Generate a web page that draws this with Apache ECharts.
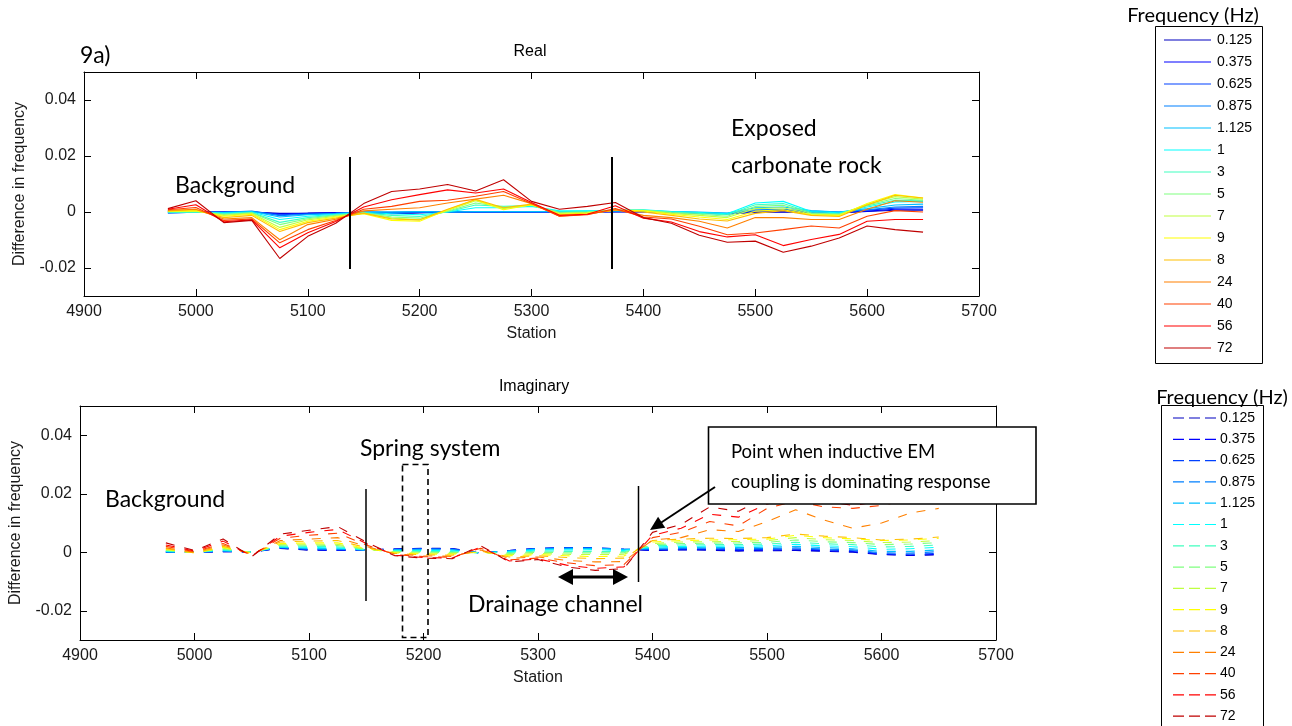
<!DOCTYPE html>
<html>
<head>
<meta charset="utf-8">
<script src="https://cdn.jsdelivr.net/npm/echarts@6/dist/echarts.min.js"></script>
<style>
  html, body { margin: 0; padding: 0; background: #ffffff; }
  #main { width: 1292px; height: 726px; }
</style>
</head>
<body>
<div id="main"></div>
<script>
// Survey stations (m) shared by both panels
const stations = [4975, 5000, 5025, 5050, 5075, 5100, 5125, 5150, 5175, 5200, 5225, 5250, 5275, 5300,
                  5325, 5350, 5375, 5400, 5425, 5450, 5475, 5500, 5525, 5550, 5575, 5600, 5625, 5650];

// Frequencies as they appear in the legends, and their jet colours
const frequencies = ['0.125', '0.375', '0.625', '0.875', '1.125', '1', '3', '5', '7', '9', '8', '24', '40', '56', '72'];
const freqColors = ['#0000bf', '#0000ff', '#0040ff', '#0080ff', '#00bfff', '#00ffff', '#40ffbf', '#80ff80',
                    '#bfff40', '#ffff00', '#ffbf00', '#ff8000', '#ff4000', '#ff0000', '#bf0000'];

// Axis tick labels
const xTicks = [4900, 5000, 5100, 5200, 5300, 5400, 5500, 5600, 5700];
const yTicks = [-0.02, 0, 0.02, 0.04];

// ---- Real part: difference in frequency per station ----
const real_0_125 = [0.0004, 0.0000, 0.0000, 0.0000, -0.0005, -0.0004, -0.0002, -0.0002, -0.0006, -0.0003, 0.0000, 0.0000, 0.0000, 0.0000, 0.0000, 0.0000, 0.0000, 0.0001, -0.0002, -0.0004, -0.0006, -0.0002, 0.0000, -0.0002, -0.0003, 0.0002, 0.0006, 0.0006];
const real_0_375 = [0.0003, 0.0000, 0.0000, 0.0000, -0.0007, -0.0005, -0.0003, -0.0002, -0.0005, -0.0002, 0.0000, 0.0000, 0.0000, 0.0000, 0.0000, 0.0000, 0.0001, 0.0002, -0.0001, -0.0004, -0.0007, 0.0000, 0.0002, -0.0001, -0.0002, 0.0003, 0.0010, 0.0010];
const real_0_625 = [-0.0003, -0.0001, 0.0000, 0.0002, -0.0010, -0.0006, -0.0004, 0.0000, -0.0002, 0.0000, 0.0000, 0.0000, 0.0000, 0.0000, 0.0001, 0.0001, 0.0002, 0.0003, 0.0000, -0.0003, -0.0006, 0.0004, 0.0006, 0.0001, -0.0001, 0.0006, 0.0014, 0.0015];
const real_0_875 = [-0.0003, -0.0001, -0.0001, 0.0003, -0.0013, -0.0008, -0.0005, 0.0000, 0.0000, 0.0001, 0.0000, 0.0000, 0.0000, 0.0000, 0.0001, 0.0002, 0.0003, 0.0004, 0.0001, -0.0002, -0.0005, 0.0008, 0.0010, 0.0003, 0.0000, 0.0008, 0.0018, 0.0020];
const real_1_125 = [-0.0002, 0.0000, -0.0002, 0.0002, -0.0018, -0.0010, -0.0006, 0.0000, 0.0000, 0.0002, 0.0000, 0.0002, 0.0002, 0.0002, 0.0002, 0.0003, 0.0004, 0.0005, 0.0002, 0.0000, -0.0004, 0.0015, 0.0018, 0.0005, 0.0000, 0.0012, 0.0025, 0.0028];
const real_1 = [-0.0001, 0.0000, -0.0004, 0.0000, -0.0027, -0.0015, -0.0008, -0.0002, -0.0006, -0.0010, 0.0000, 0.0015, 0.0015, 0.0020, 0.0004, 0.0004, 0.0006, 0.0008, 0.0002, -0.0002, -0.0006, 0.0032, 0.0038, 0.0002, -0.0003, 0.0018, 0.0036, 0.0038];
const real_3 = [0.0000, 0.0001, -0.0006, -0.0002, -0.0037, -0.0020, -0.0010, -0.0003, -0.0012, -0.0016, 0.0001, 0.0025, 0.0020, 0.0023, 0.0000, 0.0002, 0.0006, 0.0007, 0.0000, -0.0005, -0.0010, 0.0026, 0.0030, -0.0002, -0.0006, 0.0022, 0.0042, 0.0040];
const real_5 = [0.0001, 0.0002, -0.0009, -0.0003, -0.0045, -0.0024, -0.0012, -0.0004, -0.0018, -0.0022, 0.0003, 0.0032, 0.0018, 0.0024, -0.0003, 0.0000, 0.0006, 0.0006, -0.0002, -0.0008, -0.0015, 0.0020, 0.0024, -0.0005, -0.0008, 0.0025, 0.0048, 0.0042];
const real_7 = [0.0002, 0.0003, -0.0012, -0.0005, -0.0055, -0.0028, -0.0015, -0.0005, -0.0022, -0.0028, 0.0005, 0.0040, 0.0012, 0.0025, -0.0005, -0.0002, 0.0006, 0.0005, -0.0005, -0.0012, -0.0020, 0.0012, 0.0015, -0.0008, -0.0010, 0.0028, 0.0055, 0.0046];
const real_9 = [0.0003, 0.0005, -0.0015, -0.0008, -0.0063, -0.0033, -0.0018, -0.0006, -0.0030, -0.0033, 0.0008, 0.0044, 0.0008, 0.0026, -0.0008, -0.0004, 0.0006, 0.0004, -0.0008, -0.0018, -0.0027, 0.0003, 0.0008, -0.0010, -0.0013, 0.0030, 0.0062, 0.0050];
const real_8 = [0.0004, 0.0008, -0.0020, -0.0012, -0.0070, -0.0038, -0.0022, -0.0004, -0.0025, -0.0028, 0.0010, 0.0045, 0.0015, 0.0028, -0.0010, -0.0006, 0.0006, 0.0000, -0.0012, -0.0025, -0.0032, -0.0005, 0.0005, -0.0012, -0.0016, 0.0025, 0.0060, 0.0050];
const real_24 = [0.0006, 0.0010, -0.0025, -0.0020, -0.0099, -0.0045, -0.0026, 0.0004, 0.0010, 0.0015, 0.0032, 0.0046, 0.0060, 0.0030, -0.0015, -0.0008, 0.0008, -0.0012, -0.0020, -0.0033, -0.0057, -0.0020, -0.0020, -0.0027, -0.0027, 0.0010, 0.0040, 0.0035];
const real_40 = [0.0008, 0.0016, -0.0030, -0.0025, -0.0110, -0.0063, -0.0030, 0.0010, 0.0020, 0.0038, 0.0042, 0.0056, 0.0073, 0.0030, -0.0015, -0.0010, 0.0012, -0.0018, -0.0025, -0.0051, -0.0081, -0.0075, -0.0063, -0.0050, -0.0057, -0.0015, 0.0005, 0.0000];
const real_56 = [0.0010, 0.0026, -0.0035, -0.0028, -0.0128, -0.0074, -0.0034, 0.0018, 0.0044, 0.0062, 0.0079, 0.0068, 0.0082, 0.0034, -0.0012, -0.0008, 0.0022, -0.0022, -0.0036, -0.0070, -0.0089, -0.0081, -0.0120, -0.0098, -0.0080, -0.0033, -0.0027, -0.0027];
const real_72 = [0.0012, 0.0040, -0.0038, -0.0030, -0.0166, -0.0087, -0.0040, 0.0030, 0.0073, 0.0082, 0.0098, 0.0075, 0.0115, 0.0038, 0.0010, 0.0020, 0.0034, -0.0020, -0.0040, -0.0083, -0.0108, -0.0104, -0.0144, -0.0122, -0.0093, -0.0050, -0.0063, -0.0072];

// ---- Imaginary part: difference in frequency per station ----
const imag_0_125 = [0.0000, 0.0000, 0.0002, 0.0001, 0.0013, 0.0007, 0.0006, 0.0008, 0.0011, 0.0014, 0.0013, -0.0003, 0.0006, 0.0013, 0.0015, 0.0015, 0.0010, 0.0006, 0.0008, 0.0007, 0.0004, 0.0005, 0.0006, 0.0003, 0.0000, -0.0008, -0.0011, -0.0009];
const imag_0_375 = [0.0000, 0.0000, 0.0002, 0.0001, 0.0014, 0.0008, 0.0007, 0.0008, 0.0011, 0.0013, 0.0012, -0.0003, 0.0006, 0.0013, 0.0015, 0.0015, 0.0010, 0.0007, 0.0009, 0.0009, 0.0006, 0.0007, 0.0008, 0.0005, 0.0002, -0.0007, -0.0010, -0.0007];
const imag_0_625 = [0.0001, 0.0000, 0.0003, 0.0001, 0.0015, 0.0009, 0.0008, 0.0008, 0.0010, 0.0012, 0.0011, -0.0003, 0.0006, 0.0013, 0.0015, 0.0015, 0.0010, 0.0009, 0.0011, 0.0011, 0.0009, 0.0010, 0.0011, 0.0008, 0.0005, -0.0005, -0.0007, -0.0004];
const imag_0_875 = [0.0001, 0.0000, 0.0004, 0.0001, 0.0016, 0.0011, 0.0010, 0.0008, 0.0009, 0.0011, 0.0010, -0.0003, 0.0005, 0.0012, 0.0014, 0.0014, 0.0010, 0.0011, 0.0013, 0.0014, 0.0012, 0.0013, 0.0015, 0.0011, 0.0008, -0.0002, -0.0003, 0.0002];
const imag_1_125 = [0.0002, 0.0000, 0.0005, 0.0001, 0.0017, 0.0013, 0.0012, 0.0008, 0.0008, 0.0009, 0.0008, -0.0003, 0.0004, 0.0011, 0.0012, 0.0013, 0.0009, 0.0014, 0.0016, 0.0017, 0.0016, 0.0017, 0.0020, 0.0016, 0.0012, 0.0003, 0.0003, 0.0008];
const imag_1 = [0.0003, 0.0000, 0.0007, 0.0001, 0.0019, 0.0016, 0.0015, 0.0008, 0.0006, 0.0006, 0.0005, -0.0002, 0.0002, 0.0008, 0.0008, 0.0009, 0.0006, 0.0018, 0.0020, 0.0021, 0.0021, 0.0022, 0.0027, 0.0022, 0.0019, 0.0010, 0.0012, 0.0017];
const imag_3 = [0.0005, 0.0000, 0.0009, 0.0000, 0.0021, 0.0020, 0.0019, 0.0009, 0.0004, 0.0003, 0.0002, -0.0002, -0.0001, 0.0004, 0.0003, 0.0003, 0.0002, 0.0022, 0.0025, 0.0026, 0.0026, 0.0028, 0.0034, 0.0029, 0.0026, 0.0018, 0.0020, 0.0025];
const imag_5 = [0.0006, 0.0000, 0.0011, -0.0001, 0.0024, 0.0024, 0.0023, 0.0010, 0.0002, 0.0000, -0.0001, -0.0001, -0.0004, 0.0000, -0.0002, -0.0002, -0.0002, 0.0026, 0.0030, 0.0031, 0.0032, 0.0034, 0.0042, 0.0036, 0.0033, 0.0026, 0.0028, 0.0033];
const imag_7 = [0.0008, -0.0001, 0.0014, -0.0002, 0.0027, 0.0028, 0.0027, 0.0011, 0.0000, -0.0003, -0.0004, 0.0000, -0.0008, -0.0004, -0.0007, -0.0008, -0.0007, 0.0030, 0.0035, 0.0036, 0.0037, 0.0040, 0.0050, 0.0043, 0.0040, 0.0033, 0.0035, 0.0040];
const imag_9 = [0.0010, -0.0002, 0.0017, -0.0003, 0.0030, 0.0032, 0.0032, 0.0013, -0.0002, -0.0006, -0.0007, 0.0002, -0.0012, -0.0008, -0.0012, -0.0015, -0.0013, 0.0035, 0.0040, 0.0042, 0.0043, 0.0045, 0.0058, 0.0050, 0.0046, 0.0040, 0.0042, 0.0048];
const imag_8 = [0.0012, -0.0002, 0.0020, -0.0005, 0.0035, 0.0038, 0.0040, 0.0016, -0.0004, -0.0009, -0.0010, 0.0004, -0.0016, -0.0012, -0.0018, -0.0022, -0.0020, 0.0040, 0.0045, 0.0048, 0.0047, 0.0050, 0.0062, 0.0055, 0.0050, 0.0042, 0.0045, 0.0052];
const imag_24 = [0.0015, 0.0000, 0.0025, -0.0008, 0.0040, 0.0045, 0.0050, 0.0020, -0.0006, -0.0012, -0.0014, 0.0008, -0.0021, -0.0016, -0.0028, -0.0033, -0.0032, 0.0042, 0.0050, 0.0077, 0.0071, 0.0105, 0.0145, 0.0110, 0.0082, 0.0100, 0.0134, 0.0150];
const imag_40 = [0.0020, 0.0002, 0.0030, -0.0010, 0.0048, 0.0058, 0.0065, 0.0025, -0.0008, -0.0015, -0.0017, 0.0014, -0.0026, -0.0020, -0.0036, -0.0046, -0.0042, 0.0050, 0.0068, 0.0105, 0.0090, 0.0150, 0.0175, 0.0155, 0.0150, 0.0160, 0.0180, 0.0185];
const imag_56 = [0.0025, 0.0004, 0.0038, -0.0013, 0.0055, 0.0068, 0.0078, 0.0030, -0.0010, -0.0018, -0.0020, 0.0018, -0.0030, -0.0023, -0.0044, -0.0055, -0.0050, 0.0058, 0.0082, 0.0130, 0.0120, 0.0165, 0.0185, 0.0175, 0.0160, 0.0175, 0.0195, 0.0200];
const imag_72 = [0.0032, 0.0006, 0.0045, -0.0015, 0.0062, 0.0075, 0.0088, 0.0035, -0.0012, -0.0020, -0.0022, 0.0022, -0.0033, -0.0025, -0.0050, -0.0062, -0.0056, 0.0068, 0.0095, 0.0155, 0.0140, 0.0190, 0.0215, 0.0200, 0.0185, 0.0205, 0.0225, 0.0230];

const realRows = [real_0_125, real_0_375, real_0_625, real_0_875, real_1_125, real_1, real_3, real_5,
                  real_7, real_9, real_8, real_24, real_40, real_56, real_72];
const imagRows = [imag_0_125, imag_0_375, imag_0_625, imag_0_875, imag_1_125, imag_1, imag_3, imag_5,
                  imag_7, imag_9, imag_8, imag_24, imag_40, imag_56, imag_72];

const MATLAB_FONT = 'Liberation Sans';
const NOTE_FONT = 'Lato';
const INK = '#1a1a1a';

function pairs(values) {
  return stations.map((s, i) => [s, values[i]]);
}

function xLabel(v) {
  return String(Math.round(v));
}

function yLabel(v) {
  if (Math.abs(v) < 1e-12) return '0';
  return v.toFixed(2);
}

function axisX(gridIndex, isTop) {
  return {
    type: 'value', gridIndex, position: isTop ? 'top' : 'bottom',
    min: 4900, max: 5700, interval: 100,
    name: isTop ? '' : 'Station', nameLocation: 'middle', nameGap: 30,
    nameTextStyle: { fontFamily: MATLAB_FONT, fontSize: 16, color: INK },
    axisLine: { show: true, onZero: false, lineStyle: { color: '#000', width: 1 } },
    axisTick: { show: true, inside: true, length: 7, lineStyle: { color: '#000' } },
    axisLabel: { show: !isTop, fontFamily: MATLAB_FONT, fontSize: 16, color: INK, margin: 8,
                 customValues: xTicks, formatter: xLabel },
    splitLine: { show: false }
  };
}

function axisY(gridIndex, isRight) {
  return {
    type: 'value', gridIndex, position: isRight ? 'right' : 'left',
    min: -0.03, max: 0.05, interval: 0.01,
    name: isRight ? '' : 'Difference in frequency', nameLocation: 'middle', nameGap: 56,
    nameTextStyle: { fontFamily: MATLAB_FONT, fontSize: 16, color: INK },
    axisLine: { show: true, onZero: false, lineStyle: { color: '#000', width: 1 } },
    axisTick: { show: true, inside: true, length: 7, lineStyle: { color: '#000' }, customValues: yTicks },
    axisLabel: { show: !isRight, fontFamily: MATLAB_FONT, fontSize: 16, color: INK, margin: 8,
                 customValues: yTicks, formatter: yLabel },
    splitLine: { show: false }
  };
}

const series = [];
realRows.forEach((row, i) => {
  series.push({
    name: frequencies[i], type: 'line', xAxisIndex: 0, yAxisIndex: 0,
    data: pairs(row), showSymbol: false, silent: true, animation: false,
    lineStyle: { color: freqColors[i], width: 1.1 }, z: 2 + i * 0.01
  });
});
imagRows.forEach((row, i) => {
  series.push({
    name: frequencies[i], type: 'line', xAxisIndex: 2, yAxisIndex: 2,
    data: pairs(row), showSymbol: false, silent: true, animation: false,
    lineStyle: { color: freqColors[i], width: 1.1, type: [9, 10] }, z: 2 + i * 0.01
  });
});

// Legends, titles and annotations
const graphics = [];
function text(x, y, str, font, align) {
  graphics.push({ type: 'text', x, y, silent: true, z: 100,
    style: { text: str, font, fill: '#000', align: align || 'left', verticalAlign: 'middle' } });
}
function line(x1, y1, x2, y2, width, dash) {
  graphics.push({ type: 'line', silent: true, z: 100,
    shape: { x1, y1, x2, y2 },
    style: { stroke: '#000', lineWidth: width, lineDash: dash || null } });
}
function arrowHead(tx, ty, fx, fy, len, half) {
  const a = Math.atan2(ty - fy, tx - fx);
  const bx = tx - len * Math.cos(a), by = ty - len * Math.sin(a);
  const nx = -Math.sin(a) * half, ny = Math.cos(a) * half;
  graphics.push({ type: 'polygon', silent: true, z: 101,
    shape: { points: [[tx, ty], [bx + nx, by + ny], [bx - nx, by - ny]] },
    style: { fill: '#000' } });
}

// panel titles
text(530, 52, 'Real', '16px "' + MATLAB_FONT + '"', 'center');
text(534, 387, 'Imaginary', '16px "' + MATLAB_FONT + '"', 'center');

// legend: real panel (solid)
text(1193, 16, 'Frequency (Hz)', '20px ' + NOTE_FONT, 'center');
graphics.push({ type: 'rect', silent: true, z: 90, shape: { x: 1155.5, y: 26.5, width: 107, height: 337 },
  style: { fill: '#fff', stroke: '#000', lineWidth: 1 } });
frequencies.forEach((f, i) => {
  const y = 40 + i * 22.0;
  graphics.push({ type: 'line', silent: true, z: 100, shape: { x1: 1164, y1: y, x2: 1211, y2: y },
    style: { stroke: freqColors[i], lineWidth: 1.2 } });
  text(1217, y, f, '14px "' + MATLAB_FONT + '"');
});

// legend: imaginary panel (dashed)
text(1222, 398, 'Frequency (Hz)', '20px ' + NOTE_FONT, 'center');
graphics.push({ type: 'rect', silent: true, z: 90, shape: { x: 1161.5, y: 405.5, width: 102, height: 330 },
  style: { fill: '#fff', stroke: '#000', lineWidth: 1 } });
frequencies.forEach((f, i) => {
  const y = 418 + i * 21.3;
  graphics.push({ type: 'line', silent: true, z: 100, shape: { x1: 1173, y1: y, x2: 1217, y2: y },
    style: { stroke: freqColors[i], lineWidth: 1.2, lineDash: [11, 5] } });
  text(1220, y, f, '14px "' + MATLAB_FONT + '"');
});

// real panel notes
text(80, 56, '9a)', '23px ' + NOTE_FONT);
text(175, 186, 'Background', '23px ' + NOTE_FONT);
text(731, 129, 'Exposed', '23px ' + NOTE_FONT);
text(731, 166, 'carbonate rock', '23px ' + NOTE_FONT);
line(350, 157, 350, 269, 2);
line(612, 157, 612, 269, 2);

// imaginary panel notes
text(105, 500, 'Background', '23px ' + NOTE_FONT);
text(360, 449, 'Spring system', '23px ' + NOTE_FONT);
text(468, 605, 'Drainage channel', '23px ' + NOTE_FONT);
line(366, 489, 366, 601, 1.5);
line(638.5, 486, 638.5, 582, 1.5);
graphics.push({ type: 'rect', silent: true, z: 100, shape: { x: 402.5, y: 464.5, width: 25.5, height: 173 },
  style: { fill: null, stroke: '#000', lineWidth: 1.6, lineDash: [6, 4] } });
// drainage channel extent
line(570, 577, 616, 577, 3);
arrowHead(558, 577, 628, 577, 15, 8);
arrowHead(628, 577, 558, 577, 15, 8);
// callout
graphics.push({ type: 'rect', silent: true, z: 95, shape: { x: 708.5, y: 427, width: 327.5, height: 77 },
  style: { fill: '#fff', stroke: '#000', lineWidth: 1.6 } });
text(731, 452, 'Point when inductive EM', '18.5px ' + NOTE_FONT);
text(731, 482, 'coupling is dominating response', '18.5px ' + NOTE_FONT);
line(715, 487, 659, 524, 2);
arrowHead(650, 530, 715, 487, 14, 6.5);

const option = {
  animation: false,
  backgroundColor: '#ffffff',
  grid: [
    { left: 84, top: 72, width: 895, height: 224, containLabel: false },
    { left: 76, top: 406, width: 920, height: 234, containLabel: false }
  ],
  xAxis: [axisX(0, false), axisX(0, true), axisX(1, false), axisX(1, true)],
  yAxis: [axisY(0, false), axisY(0, true), axisY(1, false), axisY(1, true)],
  series,
  graphic: { elements: graphics }
};

const chart = echarts.init(document.getElementById('main'), null, { renderer: 'canvas' });
chart.setOption(option);
</script>
</body>
</html>
